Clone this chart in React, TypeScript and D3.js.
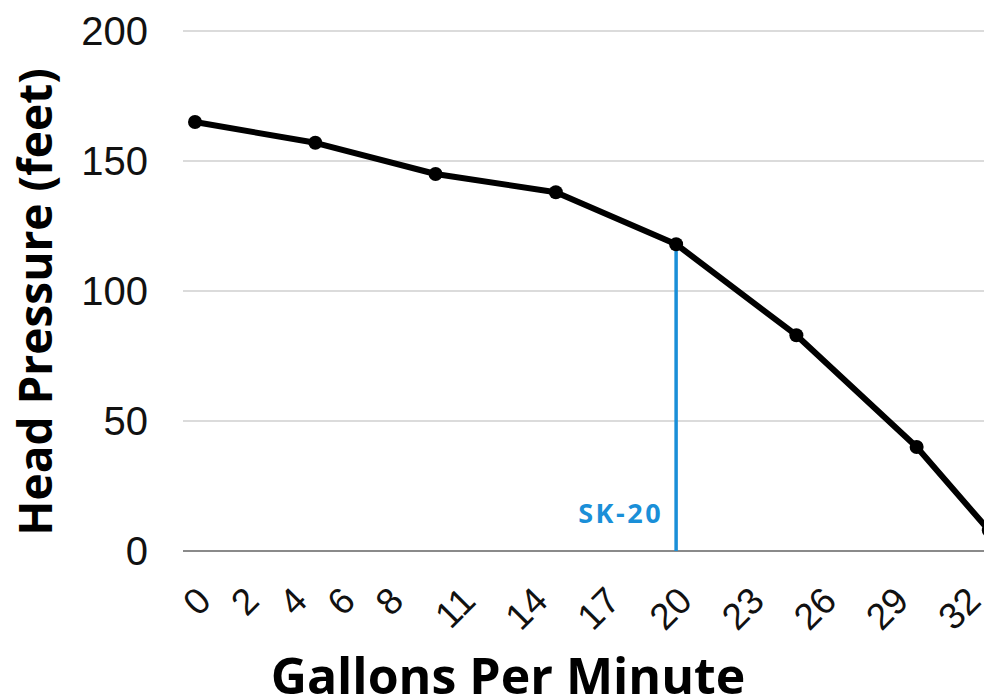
import React from "react";
import * as d3 from "d3";

const gpm = [0, 5, 10, 15, 20, 25, 30, 33];
const head = [165, 157, 145, 138, 118, 83, 40, 8];
const xTicks = [0, 2, 4, 6, 8, 11, 14, 17, 20, 23, 26, 29, 32];
const yTicks = [0, 50, 100, 150, 200];
const markerGpm = 20;
const markerHead = 118;
const markerLabel = "SK-20";
const xTitle = "Gallons Per Minute";
const yTitle = "Head Pressure (feet)";

const W = 984;
const H = 698;

export default function App() {
  const x = d3.scaleLinear().domain([-0.5, 32.8]).range([183, 984]);
  const y = d3.scaleLinear().domain([0, 200]).range([551, 31]);
  const pts = gpm.map((g, i) => [x(g), y(head[i])] as [number, number]);
  const line = d3.line()(pts) || "";
  const tickFont = "'Liberation Sans', Arial, sans-serif";
  const titleFont = "'Open Sans', Lato, sans-serif";
  return (
    <div style={{ position: "fixed", left: 0, top: 0 }}>
      <svg width={W} height={H} style={{ display: "block", background: "#fff" }}>
        <defs>
          <clipPath id="plot">
            <rect x={183} y={0} width={W - 183} height={600} />
          </clipPath>
        </defs>
        {yTicks.map((t) => (
          <g key={t}>
            <line
              x1={183}
              x2={W}
              y1={y(t)}
              y2={y(t)}
              stroke={t === 0 ? "#8a8a8a" : "#cfcfcf"}
              strokeWidth={t === 0 ? 2 : 1.5}
            />
            <text
              x={148}
              y={y(t)}
              dy="0.36em"
              textAnchor="end"
              fontFamily={tickFont}
              fontSize={40}
              fill="#111"
            >
              {t}
            </text>
          </g>
        ))}
        {xTicks.map((t) => (
          <text
            key={t}
            transform={`translate(${x(t) + 18},${603}) rotate(-45)`}
            textAnchor="end"
            fontFamily={tickFont}
            fontSize={37}
            fill="#111"
          >
            {t}
          </text>
        ))}
        <line
          x1={x(markerGpm)}
          x2={x(markerGpm)}
          y1={y(markerHead)}
          y2={y(0)}
          stroke="#1a8fd8"
          strokeWidth={3.5}
        />
        <text
          x={x(markerGpm) - 13}
          y={523}
          textAnchor="end"
          fontFamily={titleFont}
          fontWeight="bold"
          fontSize={27}
          letterSpacing={2.5}
          fill="#1a8fd8"
        >
          {markerLabel}
        </text>
        <g clipPath="url(#plot)">
          <path d={line} fill="none" stroke="#000" strokeWidth={6} strokeLinejoin="round" />
          {pts.map((p, i) => (
            <circle key={i} cx={p[0]} cy={p[1]} r={7} fill="#000" />
          ))}
        </g>
        <text
          x={508}
          y={694}
          textAnchor="middle"
          fontFamily={titleFont}
          fontWeight="bold"
          fontSize={50}
          fill="#000"
        >
          {xTitle}
        </text>
        <text
          transform={`translate(52,302) rotate(-90)`}
          textAnchor="middle"
          fontFamily={titleFont}
          fontWeight="bold"
          fontSize={46}
          fill="#000"
        >
          {yTitle}
        </text>
      </svg>
    </div>
  );
}
